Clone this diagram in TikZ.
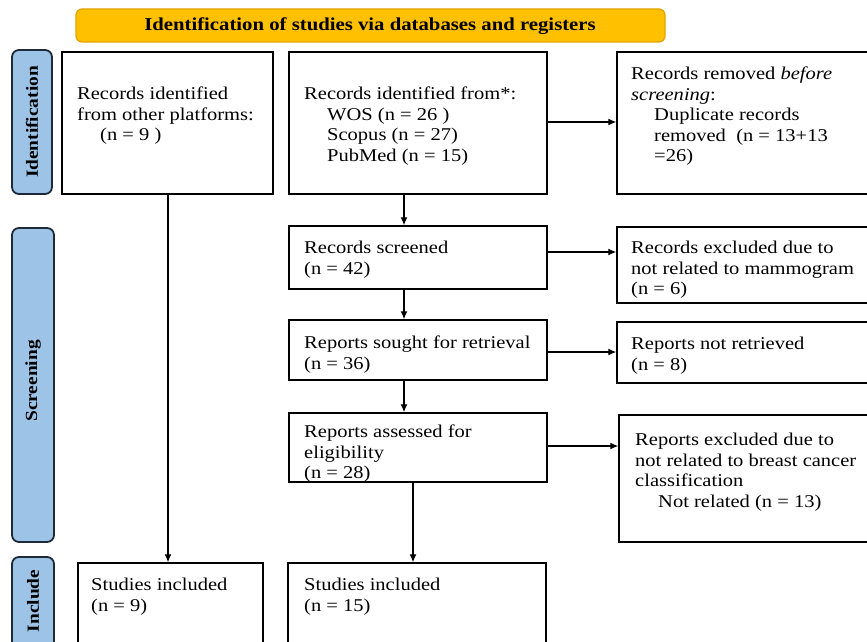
\documentclass[tikz,border=0pt]{standalone}
\usepackage{fontspec}
\setmainfont[FakeStretch=1.14]{Liberation Serif}
\usetikzlibrary{arrows.meta}
\definecolor{bannerfill}{HTML}{FFC000}
\definecolor{bannerline}{HTML}{E0A300}
\definecolor{sidefill}{HTML}{9DC3E6}
\definecolor{sideline}{HTML}{1F2A38}
\newcommand\bodyfont{\fontsize{18}{20.5}\selectfont}
\newcommand\ind{\hspace*{23pt}}
\tikzset{
  box/.style={draw=black, line width=1.4pt, inner sep=0pt},
  txt/.style={anchor=north west, inner sep=0pt, align=left, font=\bodyfont},
  sidelabel/.style={draw=sideline, line width=1.8pt, fill=sidefill, rounded corners=7pt},
  sidetext/.style={rotate=90, font=\bfseries\fontsize{17}{19}\selectfont, inner sep=0pt},
  arr/.style={line width=1.3pt, -{Latex[length=8pt,width=7pt]}}
}
\begin{document}
\begin{tikzpicture}[x=1pt,y=-1pt]
\useasboundingbox (0,0) rectangle (867,642);
\clip (0,0) rectangle (867,642);
\fill[white] (0,0) rectangle (867,642);
% banner
\draw[fill=bannerfill, draw=bannerline, line width=1.2pt, rounded corners=6pt] (76,9) rectangle (665,42);
\node[font=\bfseries\fontsize{18.2}{20}\selectfont, inner sep=0pt] (banner) at (370,26.5) {Identification of studies via databases and registers};
% side labels
\draw[sidelabel] (12,50) rectangle (52,194);
\node[sidetext] (lid) at (32,122) {Identification};
\draw[sidelabel] (12,228) rectangle (54,542);
\node[sidetext] (lscr) at (33,381) {Screening};
\draw[sidelabel] (12,557) rectangle (54,680);
\node[sidetext] (linc) at (33,601) {Include};
% boxes
\node[box, minimum width=211pt, minimum height=142pt] (other) at (167.5,123) {};
\node[box, minimum width=258pt, minimum height=142pt] (src) at (418,123) {};
\node[box, minimum width=263pt, minimum height=142pt] (removed) at (748.5,123) {};
\node[box, minimum width=258pt, minimum height=63pt] (screened) at (418,257.5) {};
\node[box, minimum width=263pt, minimum height=76pt] (excl1) at (748.5,265) {};
\node[box, minimum width=258pt, minimum height=60pt] (sought) at (418,350) {};
\node[box, minimum width=263pt, minimum height=61pt] (notret) at (748.5,352.5) {};
\node[box, minimum width=258pt, minimum height=69pt] (assessed) at (418,447.5) {};
\node[box, minimum width=261pt, minimum height=127pt] (excl2) at (749.5,478.5) {};
\node[box, minimum width=185pt, minimum height=98pt] (inc1) at (170.5,612) {};
\node[box, minimum width=258pt, minimum height=98pt] (inc2) at (417,612) {};
% texts
\node[txt] (tother) at (77,87) {Records identified\\from other platforms:\\\ind(n = 9 )};
\node[txt] (tsrc) at (304,87) {Records identified from*:\\\ind WOS (n = 26 )\\\ind Scopus (n = 27)\\\ind PubMed (n = 15)};
\node[txt] (tremoved) at (631,67) {Records removed \textit{before}\\\textit{screening}:\\\ind Duplicate records\\\ind removed\ \ (n = 13+13\\\ind =26)};
\node[txt] (tscreened) at (304,241) {Records screened\\(n = 42)};
\node[txt] (texcl1) at (631,241) {Records excluded due to\\not related to mammogram\\(n = 6)};
\node[txt] (tsought) at (304,336) {Reports sought for retrieval\\(n = 36)};
\node[txt] (tnotret) at (631,337) {Reports not retrieved\\(n = 8)};
\node[txt] (tassessed) at (304,425) {Reports assessed for\\eligibility\\(n = 28)};
\node[txt] (texcl2) at (635,433) {Reports excluded due to\\not related to breast cancer\\classification\\\ind Not related (n = 13)};
\node[txt] (tinc1) at (91,578) {Studies included\\(n = 9)};
\node[txt] (tinc2) at (304,578) {Studies included\\(n = 15)};
% connectors
\draw[arr] (src.east |- 0,122) -- (removed.west |- 0,122);
\draw[arr] (src.south -| 404,0) -- (screened.north -| 404,0);
\draw[arr] (screened.east |- 0,252) -- (excl1.west |- 0,252);
\draw[arr] (screened.south -| 404,0) -- (sought.north -| 404,0);
\draw[arr] (sought.east |- 0,352) -- (notret.west |- 0,352);
\draw[arr] (sought.south -| 404,0) -- (assessed.north -| 404,0);
\draw[arr] (assessed.east |- 0,446) -- (excl2.west |- 0,446);
\draw[arr] (assessed.south -| 413,0) -- (inc2.north -| 413,0);
\draw[arr] (other.south -| 168,0) -- (inc1.north -| 168,0);
\end{tikzpicture}
\end{document}
